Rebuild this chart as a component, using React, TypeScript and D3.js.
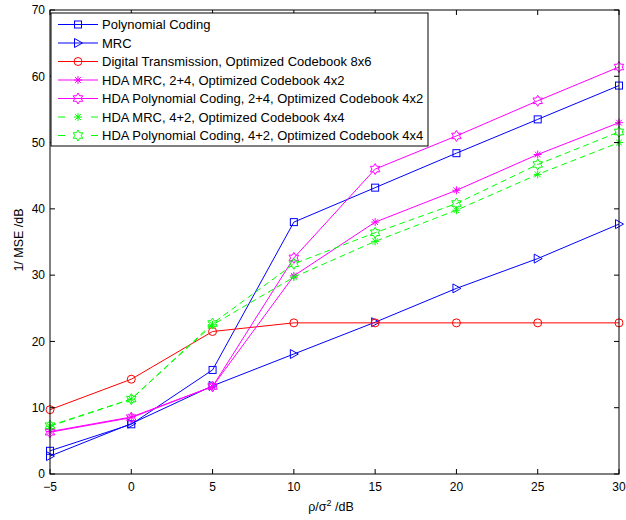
import React from "react";
import * as d3 from "d3";

const xValues = [-5, 0, 5, 10, 15, 20, 25, 30];
const polyCoding = [3.5, 7.5, 15.7, 38.0, 43.2, 48.4, 53.5, 58.6];
const mrc = [2.7, 7.6, 13.3, 18.1, 22.9, 28.0, 32.5, 37.7];
const digital = [9.7, 14.3, 21.5, 22.8, 22.8, 22.8, 22.8, 22.8];
const hdaMrc24 = [6.4, 8.6, 13.2, 29.9, 38.0, 42.8, 48.2, 53.0];
const hdaPoly24 = [6.3, 8.5, 13.2, 32.6, 46.0, 51.0, 56.3, 61.4];
const hdaMrc42 = [7.2, 11.3, 22.5, 29.7, 35.1, 39.8, 45.2, 50.0];
const hdaPoly42 = [7.3, 11.3, 22.7, 31.7, 36.4, 40.8, 46.7, 51.6];

const xTicks = [-5, 0, 5, 10, 15, 20, 25, 30];
const yTicks = [0, 10, 20, 30, 40, 50, 60, 70];

type Marker = "square" | "triangle" | "circle" | "asterisk" | "hexagram";

const seriesList: { name: string; values: number[]; color: string; marker: Marker; dashed: boolean }[] = [
  { name: "Polynomial Coding", values: polyCoding, color: "#0000ff", marker: "square", dashed: false },
  { name: "MRC", values: mrc, color: "#0000ff", marker: "triangle", dashed: false },
  { name: "Digital Transmission, Optimized Codebook 8x6", values: digital, color: "#ff0000", marker: "circle", dashed: false },
  { name: "HDA MRC, 2+4, Optimized Codebook 4x2", values: hdaMrc24, color: "#ff00ff", marker: "asterisk", dashed: false },
  { name: "HDA Polynomial Coding, 2+4, Optimized Codebook 4x2", values: hdaPoly24, color: "#ff00ff", marker: "hexagram", dashed: false },
  { name: "HDA MRC, 4+2, Optimized Codebook 4x4", values: hdaMrc42, color: "#00ff00", marker: "asterisk", dashed: true },
  { name: "HDA Polynomial Coding, 4+2, Optimized Codebook 4x4", values: hdaPoly42, color: "#00ff00", marker: "hexagram", dashed: true },
];

const W = 626;
const H = 520;
const left = 50;
const right = 619;
const top = 10;
const bottom = 474;
const FONT = "'Liberation Sans', Arial, Helvetica, sans-serif";

function hexagramPath(R: number): string {
  const r = R / Math.sqrt(3);
  const pts: string[] = [];
  for (let k = 0; k < 12; k++) {
    const ang = (-90 + k * 30) * (Math.PI / 180);
    const rad = k % 2 === 0 ? R : r;
    pts.push(`${(rad * Math.cos(ang)).toFixed(2)},${(rad * Math.sin(ang)).toFixed(2)}`);
  }
  return "M" + pts.join("L") + "Z";
}

function MarkerShape({ type, x, y, color }: { type: Marker; x: number; y: number; color: string }) {
  const common = { fill: "none", stroke: color, strokeWidth: 1 };
  if (type === "square") {
    return <rect x={x - 3.5} y={y - 3.5} width={7} height={7} {...common} />;
  }
  if (type === "circle") {
    return <circle cx={x} cy={y} r={4} {...common} />;
  }
  if (type === "triangle") {
    return <path d={`M${x - 3.5},${y - 4.5}L${x + 4.5},${y}L${x - 3.5},${y + 4.5}Z`} {...common} />;
  }
  if (type === "asterisk") {
    const s = 4;
    const d2 = s * 0.72;
    return (
      <path
        d={`M${x - s},${y}L${x + s},${y}M${x},${y - s}L${x},${y + s}M${x - d2},${y - d2}L${x + d2},${y + d2}M${x - d2},${y + d2}L${x + d2},${y - d2}`}
        {...common}
      />
    );
  }
  return <path d={hexagramPath(5.5)} transform={`translate(${x},${y})`} {...common} />;
}

export default function App() {
  const xScale = d3.scaleLinear().domain([-5, 30]).range([left, right]);
  const yScale = d3.scaleLinear().domain([0, 70]).range([bottom, top]);
  const line = d3
    .line<number>()
    .x((_, i) => xScale(xValues[i]))
    .y((d) => yScale(d));

  const legendX = 51;
  const legendY = 13;
  const legendW = 377;
  const legendH = 133;
  const rowY0 = 24.5;
  const rowStep = 18.5;

  return (
    <svg
      width={W}
      height={H}
      style={{ position: "absolute", left: 0, top: 0, background: "#fff" }}
      fontFamily={FONT}
    >
      <rect x={0} y={0} width={W} height={H} fill="#fff" />
      {/* series lines */}
      {seriesList.map((s) => (
        <g key={s.name}>
          <path
            d={line(s.values) || ""}
            fill="none"
            stroke={s.color}
            strokeWidth={1}
            strokeDasharray={s.dashed ? "6,4" : undefined}
          />
          {s.values.map((v, i) => (
            <MarkerShape key={i} type={s.marker} x={xScale(xValues[i])} y={yScale(v)} color={s.color} />
          ))}
        </g>
      ))}
      {/* axes frame */}
      <rect x={left} y={top} width={right - left} height={bottom - top} fill="none" stroke="#000" strokeWidth={1} />
      {xTicks.map((t) => (
        <g key={"x" + t}>
          <line x1={xScale(t)} x2={xScale(t)} y1={bottom} y2={bottom - 5} stroke="#000" />
          <line x1={xScale(t)} x2={xScale(t)} y1={top} y2={top + 5} stroke="#000" />
          <text x={xScale(t)} y={490.5} fontSize={12} textAnchor="middle" fill="#000">
            {t < 0 ? "\u2212" + Math.abs(t) : t}
          </text>
        </g>
      ))}
      {yTicks.map((t) => (
        <g key={"y" + t}>
          <line x1={left} x2={left + 5} y1={yScale(t)} y2={yScale(t)} stroke="#000" />
          <line x1={right} x2={right - 5} y1={yScale(t)} y2={yScale(t)} stroke="#000" />
          <text x={45} y={yScale(t) + 4.3} fontSize={12} textAnchor="end" fill="#000">
            {t}
          </text>
        </g>
      ))}
      {/* axis labels */}
      <text x={331} y={511} fontSize={12.5} textAnchor="middle" fill="#000">
        ρ/σ<tspan dy={-5} fontSize={9}>2</tspan>
        <tspan dy={5}> /dB</tspan>
      </text>
      <text
        transform={`translate(23,${(top + bottom) / 2 - 2}) rotate(-90)`}
        fontSize={12.5}
        textAnchor="middle"
        fill="#000"
      >
        1/ MSE /dB
      </text>
      {/* legend */}
      <rect x={legendX} y={legendY} width={legendW} height={legendH} fill="#fff" stroke="#000" strokeWidth={1} />
      {seriesList.map((s, i) => {
        const y = rowY0 + i * rowStep;
        return (
          <g key={"lg" + s.name}>
            {s.dashed ? (
              <>
                <line x1={58} x2={65} y1={y} y2={y} stroke={s.color} strokeWidth={1} />
                <line x1={91} x2={98} y1={y} y2={y} stroke={s.color} strokeWidth={1} />
              </>
            ) : (
              <line x1={58} x2={98} y1={y} y2={y} stroke={s.color} strokeWidth={1} />
            )}
            <MarkerShape type={s.marker} x={78} y={y} color={s.color} />
            <text x={102} y={y + 4.6} fontSize={13} fill="#000">
              {s.name}
            </text>
          </g>
        );
      })}
    </svg>
  );
}
